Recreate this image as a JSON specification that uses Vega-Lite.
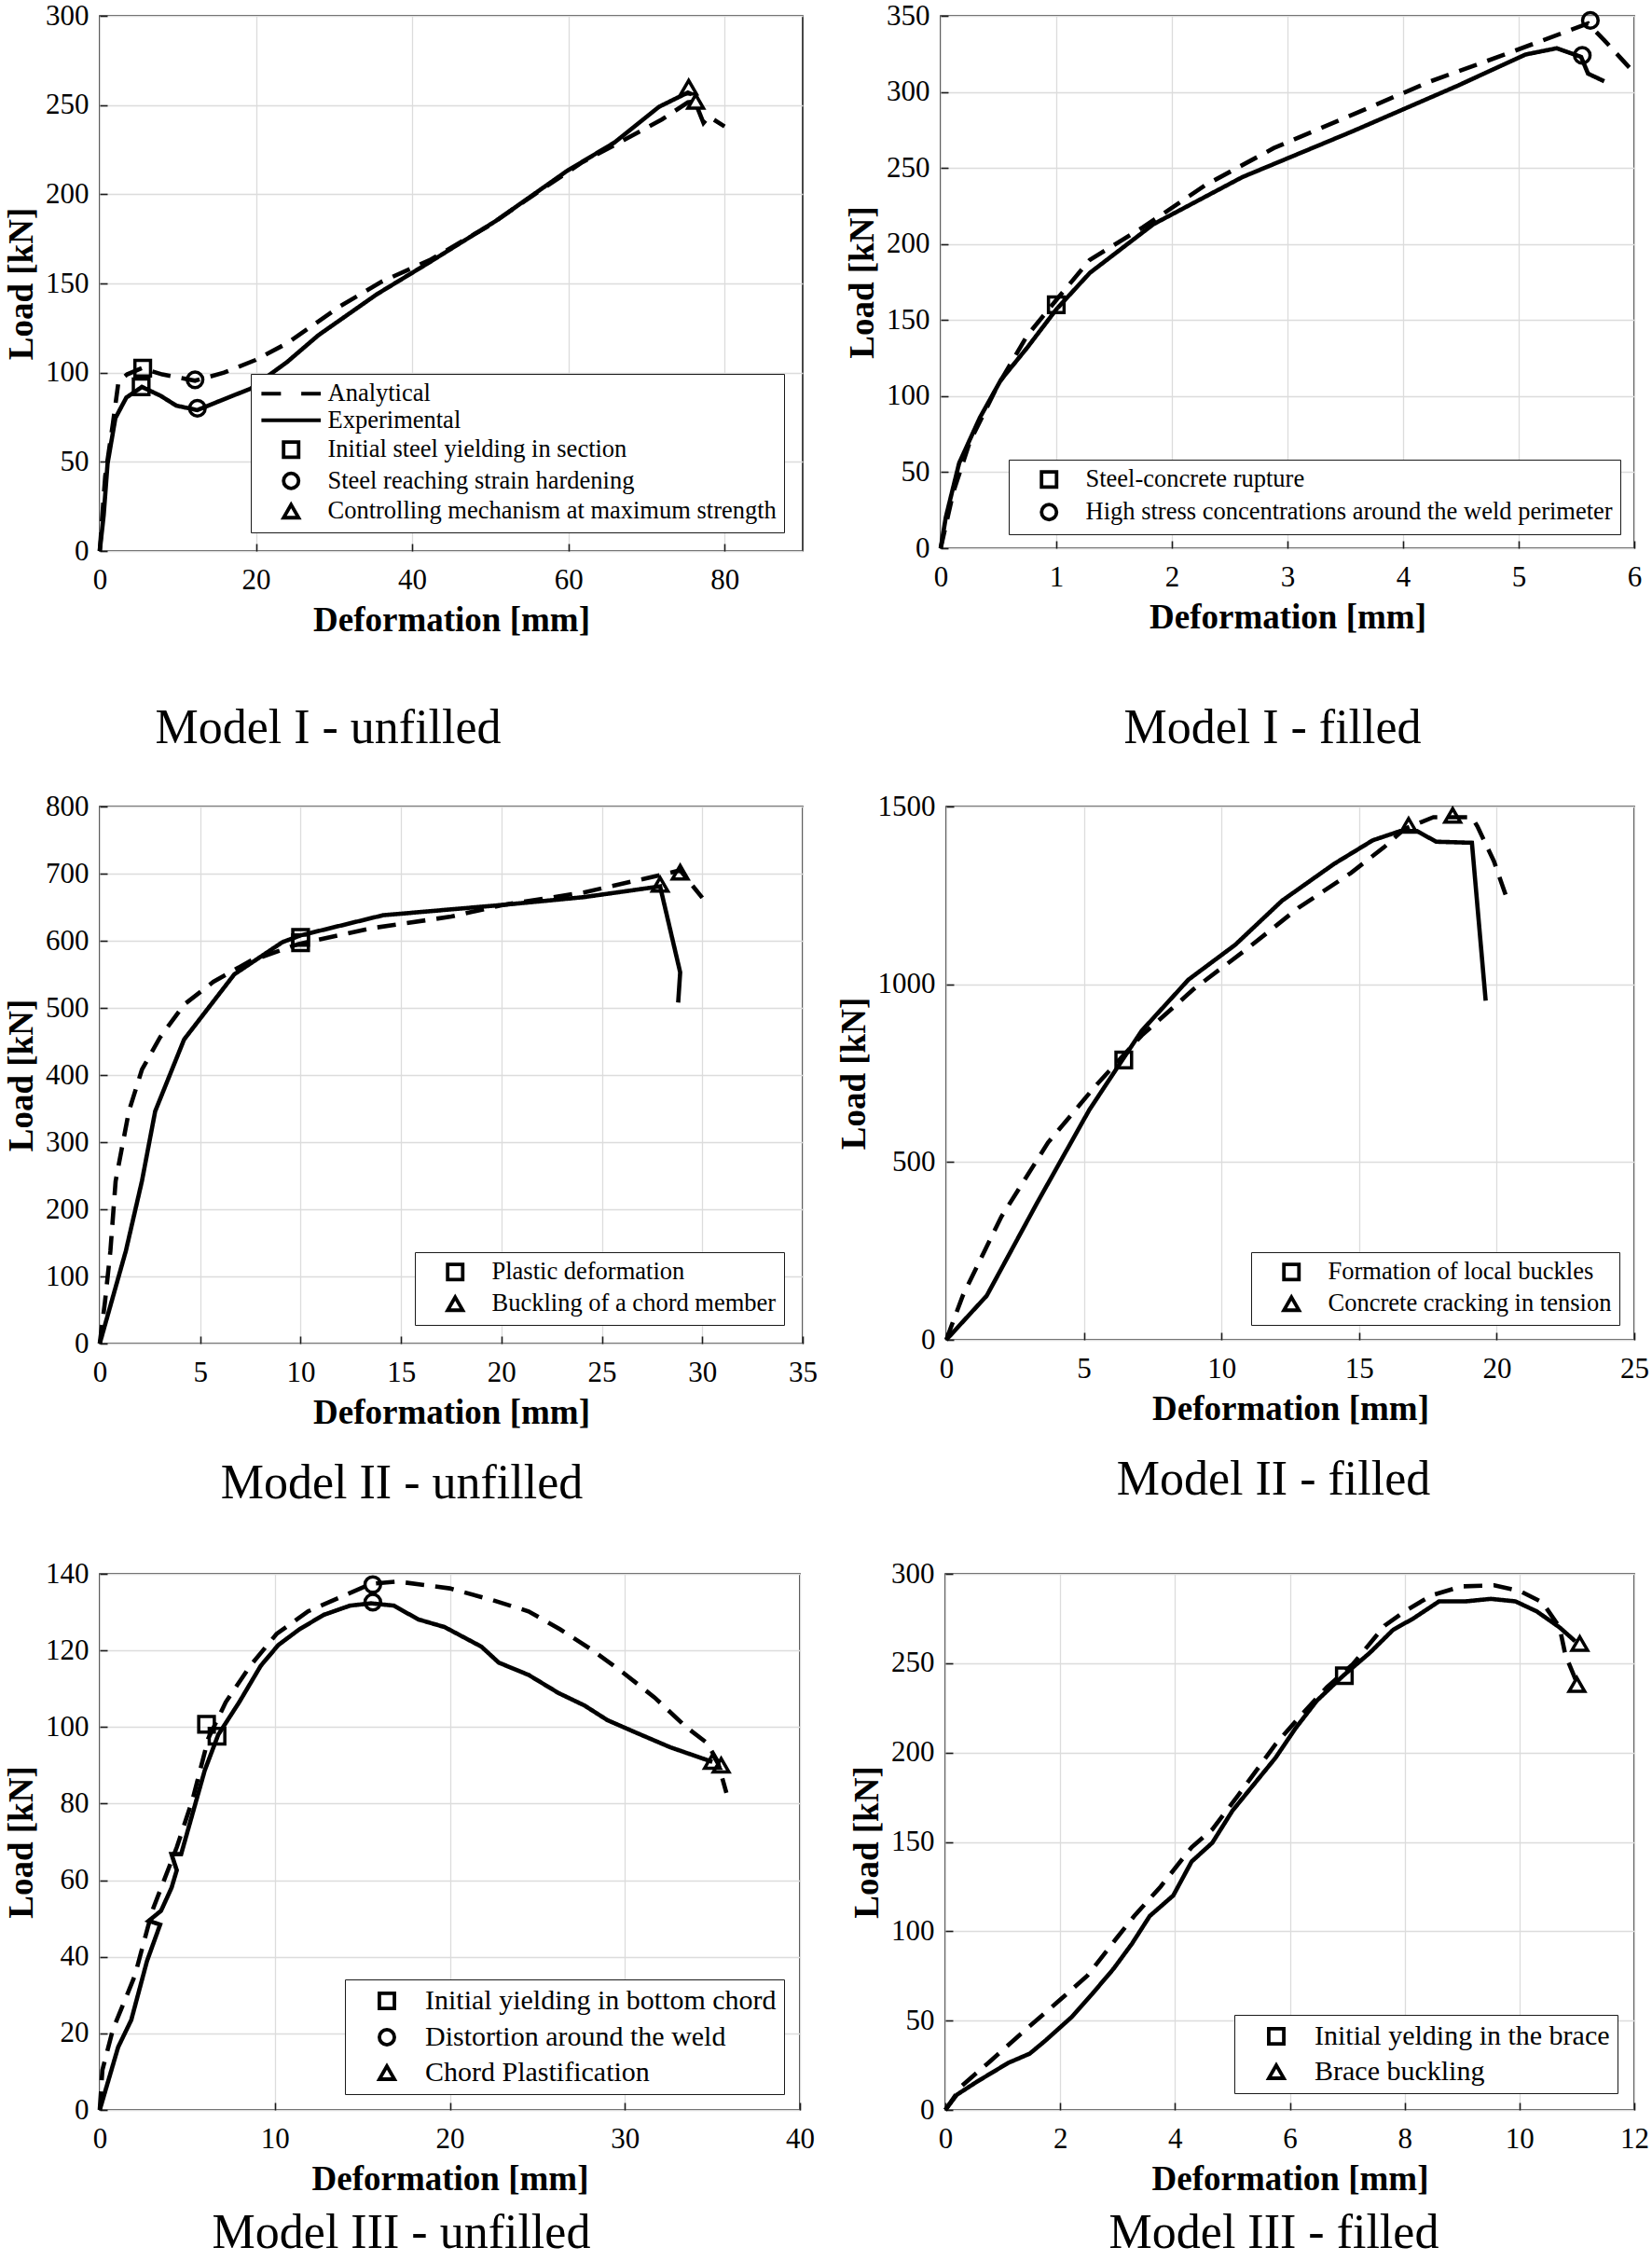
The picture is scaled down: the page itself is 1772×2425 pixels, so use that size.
{
"$schema": "https://vega.github.io/schema/vega-lite/v6.json",
"padding": {"left": 3, "top": 0, "right": 0, "bottom": 0},
"background": "white",
"config": {
 "font": "Liberation Serif",
 "view": {"stroke": "#1a1a1a", "strokeWidth": 1.6},
 "axis": {"labelFont": "Liberation Serif", "labelFontSize": 31, "labelColor": "black", "titleFont": "Liberation Serif", "titleFontSize": 37, "titleFontWeight": "bold", "titleColor": "black", "gridColor": "#dcdcdc", "gridWidth": 1.3, "domain": false, "tickColor": "#1a1a1a", "tickWidth": 1.6, "tickSize": -8, "labelFlush": false, "labelOverlap": false, "format": "d"},
 "axisX": {"labelPadding": 24, "titlePadding": 10},
 "axisY": {"labelPadding": 20, "titlePadding": 6},
 "legend": {"labelFont": "Liberation Serif", "labelFontSize": 26.5, "labelColor": "black", "fillColor": "white", "strokeColor": "#1a1a1a", "padding": 8, "symbolSize": 260, "symbolStrokeWidth": 3.8, "symbolStrokeColor": "black", "symbolFillColor": "transparent", "rowPadding": 3, "symbolOffset": 22, "labelOffset": 26, "orient": "bottom-right", "offset": 15, "cornerRadius": 0, "labelLimit": 1000},
 "title": {"font": "Liberation Serif", "fontSize": 52, "fontWeight": "normal", "color": "black"}
},
"datasets": {
 "p1l": [
  {"series":"Analytical","i":0,"x":0,"y":0},{"series":"Analytical","i":1,"x":0.7,"y":42},{"series":"Analytical","i":2,"x":1.7,"y":72},{"series":"Analytical","i":3,"x":2.4,"y":95},{"series":"Analytical","i":4,"x":3.5,"y":99},{"series":"Analytical","i":5,"x":5.4,"y":102.5},{"series":"Analytical","i":6,"x":8,"y":99},{"series":"Analytical","i":7,"x":12.2,"y":95.5},{"series":"Analytical","i":8,"x":15.9,"y":100},{"series":"Analytical","i":9,"x":19.9,"y":107},{"series":"Analytical","i":10,"x":24,"y":116.5},{"series":"Analytical","i":11,"x":30.7,"y":137},{"series":"Analytical","i":12,"x":36.1,"y":151},{"series":"Analytical","i":13,"x":42.2,"y":163},{"series":"Analytical","i":14,"x":49.7,"y":182},{"series":"Analytical","i":15,"x":55.7,"y":200},{"series":"Analytical","i":16,"x":61.8,"y":218},{"series":"Analytical","i":17,"x":67.2,"y":230.6},{"series":"Analytical","i":18,"x":72,"y":242},{"series":"Analytical","i":19,"x":75.3,"y":251.5},{"series":"Analytical","i":20,"x":76.2,"y":252},{"series":"Analytical","i":21,"x":77.3,"y":240},{"series":"Analytical","i":22,"x":78,"y":243.5},{"series":"Analytical","i":23,"x":80,"y":238},
  {"series":"Experimental","i":0,"x":0,"y":0},{"series":"Experimental","i":1,"x":0.5,"y":20},{"series":"Experimental","i":2,"x":1,"y":49},{"series":"Experimental","i":3,"x":2,"y":74.5},{"series":"Experimental","i":4,"x":3.4,"y":86},{"series":"Experimental","i":5,"x":5.4,"y":92},{"series":"Experimental","i":6,"x":7.8,"y":87},{"series":"Experimental","i":7,"x":9.8,"y":81.5},{"series":"Experimental","i":8,"x":12.5,"y":79},{"series":"Experimental","i":9,"x":15,"y":83.5},{"series":"Experimental","i":10,"x":19.3,"y":91},{"series":"Experimental","i":11,"x":24,"y":106},{"series":"Experimental","i":12,"x":28,"y":121},{"series":"Experimental","i":13,"x":35.5,"y":144},{"series":"Experimental","i":14,"x":41.9,"y":161},{"series":"Experimental","i":15,"x":50.7,"y":185},{"series":"Experimental","i":16,"x":59.8,"y":213},{"series":"Experimental","i":17,"x":65.9,"y":229},{"series":"Experimental","i":18,"x":71.6,"y":249},{"series":"Experimental","i":19,"x":75.3,"y":257},{"series":"Experimental","i":20,"x":75.8,"y":256}
 ],
 "p1m": [
  {"item":"Initial steel yielding in section","x":5.5,"y":102.5},{"item":"Initial steel yielding in section","x":5.3,"y":92},
  {"item":"Steel reaching strain hardening","x":12.2,"y":96},{"item":"Steel reaching strain hardening","x":12.5,"y":80},
  {"item":"Controlling mechanism at maximum strength","x":75.4,"y":260},{"item":"Controlling mechanism at maximum strength","x":76.3,"y":252}
 ],
 "p2l": [
  {"series":"Analytical","i":0,"x":0,"y":0},{"series":"Analytical","i":1,"x":0.11,"y":37},{"series":"Analytical","i":2,"x":0.25,"y":69.5},{"series":"Analytical","i":3,"x":0.48,"y":105},{"series":"Analytical","i":4,"x":0.75,"y":140},{"series":"Analytical","i":5,"x":1.02,"y":165},{"series":"Analytical","i":6,"x":1.29,"y":189.6},{"series":"Analytical","i":7,"x":1.75,"y":211},{"series":"Analytical","i":8,"x":2.29,"y":238.7},{"series":"Analytical","i":9,"x":2.88,"y":263},{"series":"Analytical","i":10,"x":3.56,"y":285},{"series":"Analytical","i":11,"x":4.24,"y":307},{"series":"Analytical","i":12,"x":4.93,"y":326},{"series":"Analytical","i":13,"x":5.6,"y":345},{"series":"Analytical","i":14,"x":5.74,"y":334},{"series":"Analytical","i":15,"x":5.97,"y":315},
  {"series":"Experimental","i":0,"x":0,"y":0},{"series":"Experimental","i":1,"x":0.045,"y":20.5},{"series":"Experimental","i":2,"x":0.16,"y":56},{"series":"Experimental","i":3,"x":0.34,"y":86},{"series":"Experimental","i":4,"x":0.52,"y":110.5},{"series":"Experimental","i":5,"x":0.75,"y":132},{"series":"Experimental","i":6,"x":1.0,"y":157},{"series":"Experimental","i":7,"x":1.29,"y":181},{"series":"Experimental","i":8,"x":1.84,"y":213},{"series":"Experimental","i":9,"x":2.61,"y":244},{"series":"Experimental","i":10,"x":3.56,"y":274},{"series":"Experimental","i":11,"x":4.47,"y":304},{"series":"Experimental","i":12,"x":5.06,"y":324.6},{"series":"Experimental","i":13,"x":5.33,"y":328.7},{"series":"Experimental","i":14,"x":5.54,"y":323},{"series":"Experimental","i":15,"x":5.6,"y":312},{"series":"Experimental","i":16,"x":5.74,"y":307}
 ],
 "p2m": [
  {"item":"Steel-concrete rupture","x":1.0,"y":160},
  {"item":"High stress concentrations around the weld perimeter","x":5.62,"y":347},{"item":"High stress concentrations around the weld perimeter","x":5.55,"y":324}
 ],
 "p3l": [
  {"series":"Analytical","i":0,"x":0,"y":0},{"series":"Analytical","i":1,"x":0.26,"y":62},{"series":"Analytical","i":2,"x":0.53,"y":138},{"series":"Analytical","i":3,"x":0.79,"y":242},{"series":"Analytical","i":4,"x":1.45,"y":346},{"series":"Analytical","i":5,"x":2.1,"y":408},{"series":"Analytical","i":6,"x":3.0,"y":456},{"series":"Analytical","i":7,"x":4.2,"y":505},{"series":"Analytical","i":8,"x":5.66,"y":539},{"series":"Analytical","i":9,"x":7.5,"y":570},{"series":"Analytical","i":10,"x":9.87,"y":595},{"series":"Analytical","i":11,"x":13.6,"y":619},{"series":"Analytical","i":12,"x":17.5,"y":636},{"series":"Analytical","i":13,"x":20.1,"y":653.5},{"series":"Analytical","i":14,"x":24.1,"y":672},{"series":"Analytical","i":15,"x":28,"y":698.5},{"series":"Analytical","i":16,"x":28.9,"y":705},{"series":"Analytical","i":17,"x":30,"y":664},
  {"series":"Experimental","i":0,"x":0,"y":0},{"series":"Experimental","i":1,"x":1.3,"y":138},{"series":"Experimental","i":2,"x":2.1,"y":242},{"series":"Experimental","i":3,"x":2.76,"y":346},{"series":"Experimental","i":4,"x":4.2,"y":453},{"series":"Experimental","i":5,"x":6.7,"y":550},{"series":"Experimental","i":6,"x":9.1,"y":598},{"series":"Experimental","i":7,"x":10,"y":608},{"series":"Experimental","i":8,"x":14.1,"y":638},{"series":"Experimental","i":9,"x":20.1,"y":653.5},{"series":"Experimental","i":10,"x":24.1,"y":665},{"series":"Experimental","i":11,"x":27.9,"y":681},{"series":"Experimental","i":12,"x":28.9,"y":553},{"series":"Experimental","i":13,"x":28.8,"y":508}
 ],
 "p3m": [
  {"item":"Plastic deformation","x":10,"y":605},{"item":"Plastic deformation","x":10,"y":597},
  {"item":"Buckling of a chord member","x":27.9,"y":684},{"item":"Buckling of a chord member","x":28.9,"y":702}
 ],
 "p4l": [
  {"series":"Analytical","i":0,"x":0,"y":0},{"series":"Analytical","i":1,"x":0.6,"y":124},{"series":"Analytical","i":2,"x":2.0,"y":346},{"series":"Analytical","i":3,"x":3.7,"y":555},{"series":"Analytical","i":4,"x":5.4,"y":712},{"series":"Analytical","i":5,"x":7.1,"y":856},{"series":"Analytical","i":6,"x":9.0,"y":987},{"series":"Analytical","i":7,"x":10.9,"y":1098},{"series":"Analytical","i":8,"x":12.8,"y":1215},{"series":"Analytical","i":9,"x":14.7,"y":1313},{"series":"Analytical","i":10,"x":15.9,"y":1385},{"series":"Analytical","i":11,"x":16.65,"y":1437},{"series":"Analytical","i":12,"x":17.7,"y":1470},{"series":"Analytical","i":13,"x":19.1,"y":1470},{"series":"Analytical","i":14,"x":19.3,"y":1444},{"series":"Analytical","i":15,"x":19.9,"y":1346},{"series":"Analytical","i":16,"x":20.4,"y":1235},
  {"series":"Experimental","i":0,"x":0,"y":0},{"series":"Experimental","i":1,"x":1.47,"y":124},{"series":"Experimental","i":2,"x":3.3,"y":385},{"series":"Experimental","i":3,"x":5.2,"y":647},{"series":"Experimental","i":4,"x":7.1,"y":869},{"series":"Experimental","i":5,"x":8.8,"y":1013},{"series":"Experimental","i":6,"x":10.5,"y":1111},{"series":"Experimental","i":7,"x":12.2,"y":1235},{"series":"Experimental","i":8,"x":14.1,"y":1339},{"series":"Experimental","i":9,"x":15.5,"y":1405},{"series":"Experimental","i":10,"x":16.5,"y":1431},{"series":"Experimental","i":11,"x":17.1,"y":1431},{"series":"Experimental","i":12,"x":17.8,"y":1401},{"series":"Experimental","i":13,"x":19.1,"y":1398},{"series":"Experimental","i":14,"x":19.6,"y":954}
 ],
 "p4m": [
  {"item":"Formation of local buckles","x":6.45,"y":787},
  {"item":"Concrete cracking in tension","x":16.8,"y":1447},{"item":"Concrete cracking in tension","x":18.4,"y":1475}
 ],
 "p5l": [
  {"series":"Analytical","i":0,"x":0,"y":0},{"series":"Analytical","i":1,"x":0.15,"y":10.4},{"series":"Analytical","i":2,"x":0.75,"y":21},{"series":"Analytical","i":3,"x":2,"y":35},{"series":"Analytical","i":4,"x":3.0,"y":52},{"series":"Analytical","i":5,"x":4.4,"y":68.6},{"series":"Analytical","i":6,"x":5.3,"y":81},{"series":"Analytical","i":7,"x":6.2,"y":97},{"series":"Analytical","i":8,"x":7.2,"y":106.5},{"series":"Analytical","i":9,"x":8.6,"y":116},{"series":"Analytical","i":10,"x":10.1,"y":124.3},{"series":"Analytical","i":11,"x":11.9,"y":130.2},{"series":"Analytical","i":12,"x":13.7,"y":133.8},{"series":"Analytical","i":13,"x":15.5,"y":137.4},{"series":"Analytical","i":14,"x":17,"y":138},{"series":"Analytical","i":15,"x":20,"y":136.2},{"series":"Analytical","i":16,"x":22.4,"y":133.2},{"series":"Analytical","i":17,"x":24.5,"y":130.2},{"series":"Analytical","i":18,"x":26.3,"y":125.5},{"series":"Analytical","i":19,"x":28.1,"y":120.2},{"series":"Analytical","i":20,"x":29.9,"y":114.2},{"series":"Analytical","i":21,"x":31.7,"y":107.7},{"series":"Analytical","i":22,"x":33.5,"y":100},{"series":"Analytical","i":23,"x":34.7,"y":95.8},{"series":"Analytical","i":24,"x":35.3,"y":91},{"series":"Analytical","i":25,"x":35.8,"y":82.8},
  {"series":"Experimental","i":0,"x":0,"y":0},{"series":"Experimental","i":1,"x":1.05,"y":16.4},{"series":"Experimental","i":2,"x":1.8,"y":23.5},{"series":"Experimental","i":3,"x":2.7,"y":38.9},{"series":"Experimental","i":4,"x":3.45,"y":48.4},{"series":"Experimental","i":5,"x":2.8,"y":49.4},{"series":"Experimental","i":6,"x":3.5,"y":52},{"series":"Experimental","i":7,"x":4.1,"y":58},{"series":"Experimental","i":8,"x":4.4,"y":62.6},{"series":"Experimental","i":9,"x":4.1,"y":66.8},{"series":"Experimental","i":10,"x":4.65,"y":66.8},{"series":"Experimental","i":11,"x":6.0,"y":88.7},{"series":"Experimental","i":12,"x":6.77,"y":98},{"series":"Experimental","i":13,"x":7.97,"y":106.5},{"series":"Experimental","i":14,"x":9.2,"y":116},{"series":"Experimental","i":15,"x":10.2,"y":121.4},{"series":"Experimental","i":16,"x":11.4,"y":125.5},{"series":"Experimental","i":17,"x":12.8,"y":129.3},{"series":"Experimental","i":18,"x":14.3,"y":131.7},{"series":"Experimental","i":19,"x":15.5,"y":132.3},{"series":"Experimental","i":20,"x":16.8,"y":131.7},{"series":"Experimental","i":21,"x":18.2,"y":128.1},{"series":"Experimental","i":22,"x":19.7,"y":126.1},{"series":"Experimental","i":23,"x":21.8,"y":121},{"series":"Experimental","i":24,"x":22.8,"y":116.8},{"series":"Experimental","i":25,"x":24.5,"y":113.6},{"series":"Experimental","i":26,"x":26.2,"y":108.9},{"series":"Experimental","i":27,"x":27.7,"y":105.6},{"series":"Experimental","i":28,"x":29,"y":101.8},{"series":"Experimental","i":29,"x":30.5,"y":98.8},{"series":"Experimental","i":30,"x":32.6,"y":94.7},{"series":"Experimental","i":31,"x":35.0,"y":90.9}
 ],
 "p5m": [
  {"item":"Initial yielding in bottom chord","x":6.1,"y":100.7},{"item":"Initial yielding in bottom chord","x":6.7,"y":97.6},
  {"item":"Distortion around the weld","x":15.6,"y":137.2},{"item":"Distortion around the weld","x":15.6,"y":132.6},
  {"item":"Chord Plastification","x":35.0,"y":91},{"item":"Chord Plastification","x":35.5,"y":90}
 ],
 "p6l": [
  {"series":"Analytical","i":0,"x":0,"y":0},{"series":"Analytical","i":1,"x":0.29,"y":13.6},{"series":"Analytical","i":2,"x":0.75,"y":26.4},{"series":"Analytical","i":3,"x":1.38,"y":44.4},{"series":"Analytical","i":4,"x":1.93,"y":59.7},{"series":"Analytical","i":5,"x":2.47,"y":75},{"series":"Analytical","i":6,"x":2.97,"y":95.6},{"series":"Analytical","i":7,"x":3.29,"y":108.5},{"series":"Analytical","i":8,"x":3.75,"y":125},{"series":"Analytical","i":9,"x":4.29,"y":147},{"series":"Analytical","i":10,"x":4.65,"y":157},{"series":"Analytical","i":11,"x":5.1,"y":176},{"series":"Analytical","i":12,"x":5.75,"y":204.6},{"series":"Analytical","i":13,"x":6.2,"y":221},{"series":"Analytical","i":14,"x":6.65,"y":236.7},{"series":"Analytical","i":15,"x":7.1,"y":249.5},{"series":"Analytical","i":16,"x":7.65,"y":271},{"series":"Analytical","i":17,"x":8.0,"y":279},{"series":"Analytical","i":18,"x":8.47,"y":288},{"series":"Analytical","i":19,"x":9.0,"y":293},{"series":"Analytical","i":20,"x":9.56,"y":293.6},{"series":"Analytical","i":21,"x":10.0,"y":290.5},{"series":"Analytical","i":22,"x":10.4,"y":284},{"series":"Analytical","i":23,"x":10.7,"y":270},{"series":"Analytical","i":24,"x":10.8,"y":254.6},{"series":"Analytical","i":25,"x":11.0,"y":239},
  {"series":"Experimental","i":0,"x":0,"y":0},{"series":"Experimental","i":1,"x":0.2,"y":8.5},{"series":"Experimental","i":2,"x":0.56,"y":16},{"series":"Experimental","i":3,"x":1.1,"y":26.4},{"series":"Experimental","i":4,"x":1.47,"y":31.5},{"series":"Experimental","i":5,"x":1.75,"y":39},{"series":"Experimental","i":6,"x":2.2,"y":52},{"series":"Experimental","i":7,"x":2.56,"y":65},{"series":"Experimental","i":8,"x":2.93,"y":79},{"series":"Experimental","i":9,"x":3.25,"y":93},{"series":"Experimental","i":10,"x":3.56,"y":108.5},{"series":"Experimental","i":11,"x":3.97,"y":120},{"series":"Experimental","i":12,"x":4.29,"y":139},{"series":"Experimental","i":13,"x":4.65,"y":149.5},{"series":"Experimental","i":14,"x":5.0,"y":167.4},{"series":"Experimental","i":15,"x":5.75,"y":197},{"series":"Experimental","i":16,"x":6.1,"y":213.6},{"series":"Experimental","i":17,"x":6.47,"y":229},{"series":"Experimental","i":18,"x":6.93,"y":243},{"series":"Experimental","i":19,"x":7.4,"y":256},{"series":"Experimental","i":20,"x":7.8,"y":268.7},{"series":"Experimental","i":21,"x":8.15,"y":275},{"series":"Experimental","i":22,"x":8.6,"y":284.6},{"series":"Experimental","i":23,"x":9.06,"y":284.6},{"series":"Experimental","i":24,"x":9.5,"y":286},{"series":"Experimental","i":25,"x":9.93,"y":284.6},{"series":"Experimental","i":26,"x":10.3,"y":279},{"series":"Experimental","i":27,"x":10.7,"y":270},{"series":"Experimental","i":28,"x":10.97,"y":262.3}
 ],
 "p6m": [
  {"item":"Initial yelding in the brace","x":6.95,"y":243},
  {"item":"Brace buckling","x":11.05,"y":261},{"item":"Brace buckling","x":11.0,"y":238}
 ]
},
"resolve": {"scale": {"shape": "independent", "strokeDash": "independent"}, "legend": {"shape": "independent"}},
"spacing": 40,
"vconcat": [
 {
  "spacing": 43,
  "resolve": {"scale": {"shape": "independent", "strokeDash": "independent"}, "legend": {"shape": "independent"}},
  "hconcat": [
   {
    "width": 754, "height": 574,
    "title": {"text": "Model I - unfilled", "orient": "bottom", "anchor": "middle", "frame": "group", "dx": -132, "offset": 73},
    "layer": [
     {"data": {"name": "p1l"}, "mark": {"type": "line", "strokeWidth": 4.6, "color": "black"},
      "encoding": {
       "x": {"field": "x", "type": "quantitative", "scale": {"domain": [0, 90], "nice": false}, "axis": {"values": [0, 20, 40, 60, 80], "title": "Deformation [mm]"}},
       "y": {"field": "y", "type": "quantitative", "scale": {"domain": [0, 300], "nice": false}, "axis": {"values": [0, 50, 100, 150, 200, 250, 300], "title": "Load [kN]"}},
       "strokeDash": {"field": "series", "type": "nominal", "scale": {"domain": ["Analytical", "Experimental"], "range": [[20, 12], [1, 0]]}, "legend": null},
       "order": {"field": "i", "type": "quantitative"}}},
     {"data": {"name": "p1m"}, "mark": {"type": "point", "filled": false, "color": "black", "strokeWidth": 3.5, "size": 280, "opacity": 1},
      "encoding": {
       "x": {"field": "x", "type": "quantitative"},
       "y": {"field": "y", "type": "quantitative"},
       "shape": {"field": "item", "type": "nominal",
        "scale": {"domain": ["Analytical", "Experimental", "Initial steel yielding in section", "Steel reaching strain hardening", "Controlling mechanism at maximum strength"],
                  "range": ["M-3.95,0H-1.35M1.35,0H3.95", "M-3.95,0H3.95", "square", "circle", "triangle-up"]},
        "legend": {"title": null, "offset": 20, "rowPadding": 1.5, "encode": {"symbols": {"strokeWidth": {"condition": {"test": "datum.value === 'Analytical' || datum.value === 'Experimental'", "value": 5}, "value": 3.8}, "strokeJoin": {"value": "bevel"}}}}}}}
    ]
   },
   {
    "width": 744, "height": 571,
    "title": {"text": "Model I - filled", "orient": "bottom", "anchor": "middle", "frame": "group", "dx": -16, "offset": 76},
    "layer": [
     {"data": {"name": "p2l"}, "mark": {"type": "line", "strokeWidth": 4.6, "color": "black"},
      "encoding": {
       "x": {"field": "x", "type": "quantitative", "scale": {"domain": [0, 6], "nice": false}, "axis": {"values": [0, 1, 2, 3, 4, 5, 6], "title": "Deformation [mm]"}},
       "y": {"field": "y", "type": "quantitative", "scale": {"domain": [0, 350], "nice": false}, "axis": {"values": [0, 50, 100, 150, 200, 250, 300, 350], "title": "Load [kN]"}},
       "strokeDash": {"field": "series", "type": "nominal", "scale": {"domain": ["Analytical", "Experimental"], "range": [[20, 12], [1, 0]]}, "legend": null},
       "order": {"field": "i", "type": "quantitative"}}},
     {"data": {"name": "p2m"}, "mark": {"type": "point", "filled": false, "color": "black", "strokeWidth": 3.5, "size": 280, "opacity": 1},
      "encoding": {
       "x": {"field": "x", "type": "quantitative"},
       "y": {"field": "y", "type": "quantitative"},
       "shape": {"field": "item", "type": "nominal",
        "scale": {"domain": ["Steel-concrete rupture", "High stress concentrations around the weld perimeter"], "range": ["square", "circle"]},
        "legend": {"title": null, "offset": 15, "encode": {"symbols": {"strokeWidth": {"value": 3.8}, "strokeJoin": {"value": "bevel"}}}}}}}
    ]
   }
  ]
 },
 {
  "spacing": 53,
  "resolve": {"scale": {"shape": "independent", "strokeDash": "independent"}, "legend": {"shape": "independent"}},
  "vconcat": [
   {
    "spacing": 18,
    "resolve": {"scale": {"shape": "independent", "strokeDash": "independent"}, "legend": {"shape": "independent"}},
    "hconcat": [
     {
      "width": 754, "height": 576,
      "title": {"text": "Model II - unfilled", "orient": "bottom", "anchor": "middle", "frame": "group", "dx": -53, "offset": 33},
      "layer": [
       {"data": {"name": "p3l"}, "mark": {"type": "line", "strokeWidth": 4.6, "color": "black"},
        "encoding": {
         "x": {"field": "x", "type": "quantitative", "scale": {"domain": [0, 35], "nice": false}, "axis": {"values": [0, 5, 10, 15, 20, 25, 30, 35], "title": "Deformation [mm]"}},
         "y": {"field": "y", "type": "quantitative", "scale": {"domain": [0, 800], "nice": false}, "axis": {"values": [0, 100, 200, 300, 400, 500, 600, 700, 800], "title": "Load [kN]"}},
         "strokeDash": {"field": "series", "type": "nominal", "scale": {"domain": ["Analytical", "Experimental"], "range": [[20, 12], [1, 0]]}, "legend": null},
         "order": {"field": "i", "type": "quantitative"}}},
       {"data": {"name": "p3m"}, "mark": {"type": "point", "filled": false, "color": "black", "strokeWidth": 3.5, "size": 280, "opacity": 1},
        "encoding": {
         "x": {"field": "x", "type": "quantitative"},
         "y": {"field": "y", "type": "quantitative"},
         "shape": {"field": "item", "type": "nominal",
          "scale": {"domain": ["Plastic deformation", "Buckling of a chord member"], "range": ["square", "triangle-up"]},
          "legend": {"title": null, "offset": 20, "encode": {"symbols": {"strokeWidth": {"value": 3.8}, "strokeJoin": {"value": "bevel"}}}}}}}
      ]
     },
     {
      "width": 738, "height": 572,
      "title": {"text": "Model II - filled", "orient": "bottom", "anchor": "middle", "frame": "group", "dx": -18, "offset": 33},
      "layer": [
       {"data": {"name": "p4l"}, "mark": {"type": "line", "strokeWidth": 4.6, "color": "black"},
        "encoding": {
         "x": {"field": "x", "type": "quantitative", "scale": {"domain": [0, 25], "nice": false}, "axis": {"values": [0, 5, 10, 15, 20, 25], "title": "Deformation [mm]"}},
         "y": {"field": "y", "type": "quantitative", "scale": {"domain": [0, 1500], "nice": false}, "axis": {"values": [0, 500, 1000, 1500], "title": "Load [kN]"}},
         "strokeDash": {"field": "series", "type": "nominal", "scale": {"domain": ["Analytical", "Experimental"], "range": [[20, 12], [1, 0]]}, "legend": null},
         "order": {"field": "i", "type": "quantitative"}}},
       {"data": {"name": "p4m"}, "mark": {"type": "point", "filled": false, "color": "black", "strokeWidth": 3.5, "size": 280, "opacity": 1},
        "encoding": {
         "x": {"field": "x", "type": "quantitative"},
         "y": {"field": "y", "type": "quantitative"},
         "shape": {"field": "item", "type": "nominal",
          "scale": {"domain": ["Formation of local buckles", "Concrete cracking in tension"], "range": ["square", "triangle-up"]},
          "legend": {"title": null, "offset": 16, "encode": {"symbols": {"strokeWidth": {"value": 3.8}, "strokeJoin": {"value": "bevel"}}}}}}}
      ]
     }
    ]
   },
   {
    "spacing": 35,
    "resolve": {"scale": {"shape": "independent", "strokeDash": "independent"}, "legend": {"shape": "independent"}},
    "hconcat": [
     {
      "width": 751, "height": 575,
      "title": {"text": "Model III - unfilled", "orient": "bottom", "anchor": "middle", "frame": "group", "dx": -52, "offset": 15},
      "layer": [
       {"data": {"name": "p5l"}, "mark": {"type": "line", "strokeWidth": 4.6, "color": "black"},
        "encoding": {
         "x": {"field": "x", "type": "quantitative", "scale": {"domain": [0, 40], "nice": false}, "axis": {"values": [0, 10, 20, 30, 40], "title": "Deformation [mm]"}},
         "y": {"field": "y", "type": "quantitative", "scale": {"domain": [0, 140], "nice": false}, "axis": {"values": [0, 20, 40, 60, 80, 100, 120, 140], "title": "Load [kN]"}},
         "strokeDash": {"field": "series", "type": "nominal", "scale": {"domain": ["Analytical", "Experimental"], "range": [[20, 12], [1, 0]]}, "legend": null},
         "order": {"field": "i", "type": "quantitative"}}},
       {"data": {"name": "p5m"}, "mark": {"type": "point", "filled": false, "color": "black", "strokeWidth": 3.5, "size": 280, "opacity": 1},
        "encoding": {
         "x": {"field": "x", "type": "quantitative"},
         "y": {"field": "y", "type": "quantitative"},
         "shape": {"field": "item", "type": "nominal",
          "scale": {"domain": ["Initial yielding in bottom chord", "Distortion around the weld", "Chord Plastification"], "range": ["square", "circle", "triangle-up"]},
          "legend": {"title": null, "offset": 17, "labelFontSize": 30, "rowPadding": 7, "encode": {"symbols": {"strokeWidth": {"value": 3.8}, "strokeJoin": {"value": "bevel"}}}}}}}
      ]
     },
     {
      "width": 739, "height": 575,
      "title": {"text": "Model III - filled", "orient": "bottom", "anchor": "middle", "frame": "group", "dx": -17, "offset": 15},
      "layer": [
       {"data": {"name": "p6l"}, "mark": {"type": "line", "strokeWidth": 4.6, "color": "black"},
        "encoding": {
         "x": {"field": "x", "type": "quantitative", "scale": {"domain": [0, 12], "nice": false}, "axis": {"values": [0, 2, 4, 6, 8, 10, 12], "title": "Deformation [mm]"}},
         "y": {"field": "y", "type": "quantitative", "scale": {"domain": [0, 300], "nice": false}, "axis": {"values": [0, 50, 100, 150, 200, 250, 300], "title": "Load [kN]"}},
         "strokeDash": {"field": "series", "type": "nominal", "scale": {"domain": ["Analytical", "Experimental"], "range": [[20, 12], [1, 0]]}, "legend": null},
         "order": {"field": "i", "type": "quantitative"}}},
       {"data": {"name": "p6m"}, "mark": {"type": "point", "filled": false, "color": "black", "strokeWidth": 3.5, "size": 280, "opacity": 1},
        "encoding": {
         "x": {"field": "x", "type": "quantitative"},
         "y": {"field": "y", "type": "quantitative"},
         "shape": {"field": "item", "type": "nominal",
          "scale": {"domain": ["Initial yelding in the brace", "Brace buckling"], "range": ["square", "triangle-up"]},
          "legend": {"title": null, "offset": 18, "labelFontSize": 30, "rowPadding": 7, "encode": {"symbols": {"strokeWidth": {"value": 3.8}, "strokeJoin": {"value": "bevel"}}}}}}}
      ]
     }
    ]
   }
  ]
 }
]
}
